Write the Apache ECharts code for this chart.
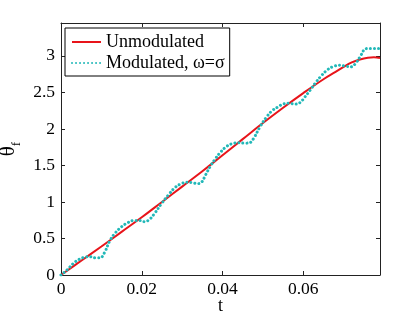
<!DOCTYPE html>
<html><head><meta charset="utf-8">
<script src="https://cdn.jsdelivr.net/npm/echarts@6/dist/echarts.min.js"></script>
<style>html,body{margin:0;padding:0;background:#fff}#c{width:420px;height:316px}</style>
</head><body><div id="c"></div>
<script>
const xTicks = [0, 0.02, 0.04, 0.06];
const yTicks = [0, 0.5, 1, 1.5, 2, 2.5, 3];
const seriesNames = ['Unmodulated', 'Modulated, ω=σ'];
const redT =     [0, 0.005, 0.01, 0.015, 0.02, 0.025, 0.03, 0.035, 0.04, 0.045, 0.05, 0.055, 0.06, 0.065, 0.068, 0.07, 0.072, 0.074, 0.076, 0.0775, 0.079];
const redTheta = [0, 0.195, 0.39, 0.59, 0.79, 1.0, 1.21, 1.42, 1.64, 1.86, 2.08, 2.29, 2.49, 2.68, 2.78, 2.85, 2.91, 2.95, 2.975, 2.98, 2.97];
const cyanT =     [0, 0.0015, 0.003, 0.0045, 0.006, 0.0072, 0.0085, 0.0097, 0.0108, 0.0121, 0.0135, 0.015, 0.0165, 0.018, 0.0195, 0.0207, 0.0218, 0.023, 0.025, 0.0268, 0.0283, 0.0298, 0.0312, 0.0325, 0.0338, 0.0348, 0.0358, 0.037, 0.0382, 0.0395, 0.041, 0.0425, 0.044, 0.0455, 0.0467, 0.0477, 0.0493, 0.051, 0.0523, 0.0537, 0.055, 0.0565, 0.058, 0.0592, 0.0603, 0.0617, 0.063, 0.0645, 0.066, 0.0675, 0.069, 0.0705, 0.0718, 0.073, 0.0742, 0.0752, 0.076, 0.079];
const cyanTheta = [0, 0.07, 0.155, 0.215, 0.245, 0.25, 0.235, 0.235, 0.31, 0.47, 0.58, 0.66, 0.715, 0.745, 0.745, 0.73, 0.755, 0.83, 0.985, 1.11, 1.2, 1.25, 1.27, 1.265, 1.25, 1.27, 1.37, 1.49, 1.59, 1.68, 1.76, 1.8, 1.81, 1.805, 1.81, 1.87, 2.03, 2.17, 2.25, 2.3, 2.34, 2.35, 2.34, 2.36, 2.43, 2.53, 2.63, 2.73, 2.81, 2.855, 2.87, 2.86, 2.85, 2.9, 3.0, 3.09, 3.1, 3.1];

const FONT = 'Liberation Serif';
const AX = '#222';
function xAxisCfg(pos, labels) {
  return {
    type: 'value', position: pos, min: 0, max: 0.079, interval: 0.02,
    axisLine: { show: true, onZero: false, lineStyle: { color: AX, width: 1 } },
    axisTick: { show: true, inside: true, length: 4, lineStyle: { color: AX } },
    axisLabel: { show: labels, showMaxLabel: false, margin: 5, color: '#000', fontFamily: FONT, fontSize: 17.5,
      formatter: v => xTicks.some(t => Math.abs(t - v) < 1e-9) ? String(v) : '' },
    splitLine: { show: false },
    name: labels ? 't' : '', nameLocation: 'middle', nameGap: 22, nameMoveOverlap: false,
    nameTextStyle: { color: '#000', fontFamily: FONT, fontSize: 18 }
  };
}
function yAxisCfg(pos, labels) {
  return {
    type: 'value', position: pos, min: 0, max: 3.45, interval: 0.5,
    axisLine: { show: true, onZero: false, lineStyle: { color: AX, width: 1 } },
    axisTick: { show: true, inside: true, length: 4, lineStyle: { color: AX } },
    axisLabel: { show: labels, showMaxLabel: false, margin: 6, color: '#000', fontFamily: FONT, fontSize: 17.5,
      formatter: v => yTicks.some(t => Math.abs(t - v) < 1e-9) ? String(v) : '' },
    splitLine: { show: false },
    name: labels ? '{a|θ}{b|f}' : '', nameLocation: 'middle', nameGap: 38, nameRotate: 90, nameMoveOverlap: false,
    nameTextStyle: { color: '#000', fontFamily: FONT,
      rich: { a: { fontSize: 21, fontFamily: FONT, lineHeight: 20, verticalAlign: 'top', color: '#000' },
              b: { fontSize: 13, fontFamily: FONT, lineHeight: 25, verticalAlign: 'bottom', color: '#000' } } }
  };
}
const chart = echarts.init(document.getElementById('c'), null, { renderer: 'canvas' });
chart.setOption({
  animation: false,
  backgroundColor: '#fff',
  grid: { left: 61, right: 40, top: 23, bottom: 41, outerBoundsMode: 'none' },
  xAxis: [xAxisCfg('bottom', true), xAxisCfg('top', false)],
  yAxis: [yAxisCfg('left', true), yAxisCfg('right', false)],
  legend: {
    left: 65, top: 28, orient: 'vertical', backgroundColor: '#fff',
    borderColor: '#000', borderWidth: 1, borderRadius: 0,
    padding: [5, 5, 4, 6], itemGap: 3, itemWidth: 29, itemHeight: 14,
    itemStyle: { opacity: 0 },
    textStyle: { fontFamily: FONT, fontSize: 18, color: '#000', lineHeight: 18 },
    data: seriesNames
  },
  series: [
    { name: seriesNames[0], type: 'line', xAxisIndex: 0, yAxisIndex: 0, showSymbol: false, symbol: 'none', smooth: 0.4,
      data: redT.map((t, i) => [t, redTheta[i]]),
      lineStyle: { color: '#e8141a', width: 2 }, itemStyle: { color: '#e8141a' }, z: 2 },
    { name: seriesNames[1], type: 'line', xAxisIndex: 0, yAxisIndex: 0, showSymbol: false, symbol: 'none', smooth: 0.4,
      data: cyanT.map((t, i) => [t, cyanTheta[i]]),
      lineStyle: { color: '#22b8b8', width: 3, type: [0.01, 4], cap: 'round' }, itemStyle: { color: '#22b8b8' }, z: 3 }
  ]
});
</script></body></html>
